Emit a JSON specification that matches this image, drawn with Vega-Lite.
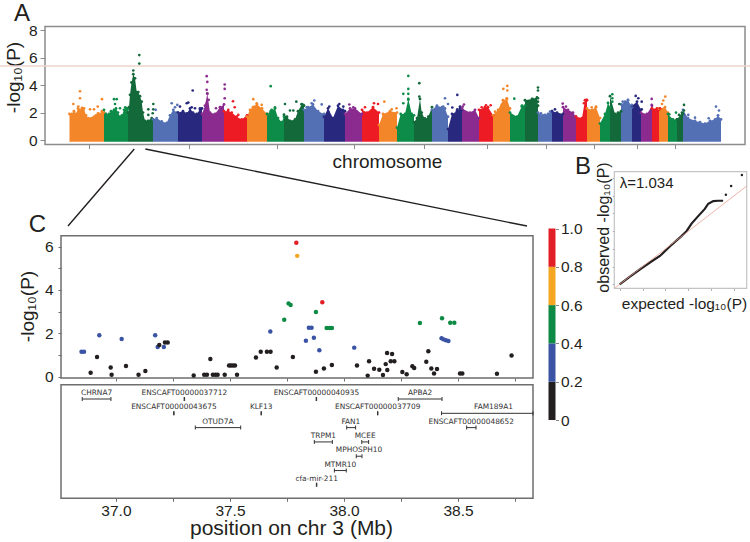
{
"$schema":"https://vega.github.io/schema/vega-lite/v6.json",
"width":750,"height":542,"padding":0,"autosize":{"type":"none"},"background":"white",
"config":{"view":{"stroke":null},"font":"Liberation Sans","axis":{"grid":false,"labelFont":"Liberation Sans","titleFont":"Liberation Sans","titleFontWeight":"normal","labelColor":"#231f20","titleColor":"#231f20"}},
"datasets":{
"env":[
{"chr":1,"pos":24.5,"p":1.9},{"chr":1,"pos":27,"p":1.9},{"chr":1,"pos":29,"p":2.1},{"chr":1,"pos":31,"p":1.9},{"chr":1,"pos":33,"p":2.3},{"chr":1,"pos":35,"p":2.2},{"chr":1,"pos":37,"p":2.35},{"chr":1,"pos":39,"p":2.3},{"chr":1,"pos":41,"p":1.8},{"chr":1,"pos":43,"p":1.6},{"chr":1,"pos":45,"p":1.55},{"chr":1,"pos":47,"p":1.6},{"chr":1,"pos":49,"p":1.7},{"chr":1,"pos":51,"p":1.8},{"chr":1,"pos":53,"p":1.95},{"chr":1,"pos":55,"p":1.9},{"chr":1,"pos":57,"p":2.1},{"chr":1,"pos":59,"p":2.0},
{"chr":2,"pos":59,"p":2.2},{"chr":2,"pos":61,"p":1.9},{"chr":2,"pos":64,"p":1.9},{"chr":2,"pos":66,"p":2.1},{"chr":2,"pos":69,"p":2.2},{"chr":2,"pos":71,"p":2.3},{"chr":2,"pos":73,"p":2.0},{"chr":2,"pos":75,"p":1.7},{"chr":2,"pos":77,"p":1.8},{"chr":2,"pos":79,"p":2.2},{"chr":2,"pos":81,"p":2.3},{"chr":2,"pos":83,"p":2.3},
{"chr":3,"pos":83,"p":2.0},{"chr":3,"pos":84,"p":2.4},{"chr":3,"pos":85,"p":3.3},{"chr":3,"pos":86.5,"p":4.2},{"chr":3,"pos":88.3,"p":4.8},{"chr":3,"pos":90,"p":4.5},{"chr":3,"pos":91.7,"p":3.5},{"chr":3,"pos":93.3,"p":3.5},{"chr":3,"pos":95,"p":3.2},{"chr":3,"pos":96.7,"p":2.8},{"chr":3,"pos":98,"p":2.0},{"chr":3,"pos":100,"p":1.4},{"chr":3,"pos":103,"p":1.4},{"chr":3,"pos":106.7,"p":1.6},{"chr":3,"pos":108,"p":1.5},
{"chr":4,"pos":108,"p":1.5},{"chr":4,"pos":111.7,"p":1.6},{"chr":4,"pos":116.7,"p":1.35},{"chr":4,"pos":121.7,"p":1.25},{"chr":4,"pos":125,"p":1.8},{"chr":4,"pos":128.3,"p":2.2},{"chr":4,"pos":131.7,"p":2.0},{"chr":4,"pos":133,"p":2.0},
{"chr":5,"pos":133,"p":2.0},{"chr":5,"pos":138,"p":2.1},{"chr":5,"pos":142,"p":1.95},{"chr":5,"pos":145,"p":2.3},{"chr":5,"pos":148,"p":2.0},{"chr":5,"pos":151.7,"p":1.9},{"chr":5,"pos":155,"p":2.2},{"chr":5,"pos":157,"p":2.3},
{"chr":6,"pos":157,"p":1.9},{"chr":6,"pos":160,"p":2.5},{"chr":6,"pos":162.3,"p":3.4},{"chr":6,"pos":165,"p":2.0},{"chr":6,"pos":170,"p":1.9},{"chr":6,"pos":175,"p":2.4},{"chr":6,"pos":179,"p":2.6},
{"chr":7,"pos":179,"p":2.1},{"chr":7,"pos":183,"p":2.1},{"chr":7,"pos":186.7,"p":2.0},{"chr":7,"pos":191.7,"p":1.7},{"chr":7,"pos":196.7,"p":1.5},{"chr":7,"pos":202,"p":1.8},
{"chr":8,"pos":202,"p":1.7},{"chr":8,"pos":205,"p":2.2},{"chr":8,"pos":208,"p":2.4},{"chr":8,"pos":212,"p":2.6},{"chr":8,"pos":217,"p":2.3},{"chr":8,"pos":222,"p":1.9},
{"chr":9,"pos":222,"p":1.9},{"chr":9,"pos":225.7,"p":2.1},{"chr":9,"pos":230,"p":2.3},{"chr":9,"pos":233,"p":1.6},{"chr":9,"pos":236.7,"p":1.3},{"chr":9,"pos":239,"p":1.7},
{"chr":10,"pos":239,"p":1.85},{"chr":10,"pos":242,"p":1.7},{"chr":10,"pos":245,"p":1.4},{"chr":10,"pos":250,"p":1.5},{"chr":10,"pos":253,"p":2.1},{"chr":10,"pos":256.7,"p":2.6},{"chr":10,"pos":259,"p":2.5},
{"chr":11,"pos":259,"p":2.2},{"chr":11,"pos":263,"p":2.4},{"chr":11,"pos":268,"p":2.6},{"chr":11,"pos":273,"p":2.1},{"chr":11,"pos":279,"p":1.9},
{"chr":12,"pos":279,"p":1.7},{"chr":12,"pos":283,"p":2.3},{"chr":12,"pos":288,"p":1.6},{"chr":12,"pos":293,"p":2.5},{"chr":12,"pos":298,"p":2.2},{"chr":12,"pos":300,"p":2.1},
{"chr":13,"pos":300,"p":1.9},{"chr":13,"pos":305,"p":2.3},{"chr":13,"pos":310,"p":2.3},{"chr":13,"pos":317,"p":1.9},
{"chr":14,"pos":317,"p":2.2},{"chr":14,"pos":322,"p":2.0},{"chr":14,"pos":328,"p":2.4},{"chr":14,"pos":334,"p":2.0},
{"chr":15,"pos":334,"p":1.1},{"chr":15,"pos":338,"p":1.9},{"chr":15,"pos":345,"p":2.1},{"chr":15,"pos":352,"p":2.0},
{"chr":16,"pos":352,"p":0.9},{"chr":16,"pos":355.7,"p":1.9},{"chr":16,"pos":360,"p":1.9},{"chr":16,"pos":363.3,"p":3.0},{"chr":16,"pos":366.7,"p":1.9},{"chr":16,"pos":369,"p":1.8},
{"chr":17,"pos":369,"p":1.3},{"chr":17,"pos":372,"p":1.6},{"chr":17,"pos":375,"p":3.0},{"chr":17,"pos":376.7,"p":2.0},{"chr":17,"pos":380,"p":1.5},{"chr":17,"pos":383.3,"p":1.7},{"chr":17,"pos":387,"p":2.4},
{"chr":18,"pos":387,"p":2.2},{"chr":18,"pos":392,"p":2.5},{"chr":18,"pos":397,"p":2.4},{"chr":18,"pos":400,"p":2.3},{"chr":18,"pos":403,"p":1.7},
{"chr":19,"pos":403,"p":0.8},{"chr":19,"pos":407,"p":1.9},{"chr":19,"pos":412,"p":2.1},{"chr":19,"pos":415,"p":2.3},{"chr":19,"pos":417,"p":2.2},
{"chr":20,"pos":417,"p":2.3},{"chr":20,"pos":425,"p":2.0},{"chr":20,"pos":430,"p":2.2},{"chr":20,"pos":434,"p":1.6},
{"chr":21,"pos":434,"p":2.2},{"chr":21,"pos":440,"p":2.4},{"chr":21,"pos":443,"p":2.4},{"chr":21,"pos":448,"p":1.8},
{"chr":22,"pos":448,"p":1.8},{"chr":22,"pos":453,"p":2.2},{"chr":22,"pos":458,"p":2.9},{"chr":22,"pos":462,"p":3.0},{"chr":22,"pos":465,"p":2.3},
{"chr":23,"pos":465,"p":2.0},{"chr":23,"pos":472,"p":1.7},{"chr":23,"pos":477,"p":2.5},{"chr":23,"pos":480,"p":2.5},
{"chr":24,"pos":480,"p":2.9},{"chr":24,"pos":487,"p":3.0},{"chr":24,"pos":492,"p":3.1},{"chr":24,"pos":493,"p":2.5},
{"chr":25,"pos":493,"p":2.0},{"chr":25,"pos":498,"p":1.8},{"chr":25,"pos":503,"p":1.9},{"chr":25,"pos":507,"p":2.1},
{"chr":26,"pos":507,"p":2.1},{"chr":26,"pos":512,"p":2.0},{"chr":26,"pos":518,"p":1.9},
{"chr":27,"pos":518,"p":2.4},{"chr":27,"pos":523,"p":2.2},{"chr":27,"pos":528,"p":2.0},{"chr":27,"pos":531,"p":1.7},
{"chr":28,"pos":531,"p":1.7},{"chr":28,"pos":537,"p":1.6},{"chr":28,"pos":540,"p":2.9},{"chr":28,"pos":542,"p":2.9},
{"chr":29,"pos":542,"p":2.3},{"chr":29,"pos":547,"p":2.2},{"chr":29,"pos":551,"p":2.4},{"chr":29,"pos":555,"p":1.6},
{"chr":30,"pos":555,"p":1.2},{"chr":30,"pos":560,"p":1.9},{"chr":30,"pos":563,"p":2.7},{"chr":30,"pos":565,"p":2.4},
{"chr":31,"pos":565,"p":3.2},{"chr":31,"pos":570,"p":1.9},{"chr":31,"pos":573,"p":2.0},{"chr":31,"pos":576,"p":2.1},
{"chr":32,"pos":576,"p":2.6},{"chr":32,"pos":580,"p":2.8},{"chr":32,"pos":583,"p":2.9},{"chr":32,"pos":587,"p":2.4},
{"chr":33,"pos":587,"p":2.5},{"chr":33,"pos":592,"p":2.8},{"chr":33,"pos":596,"p":2.2},
{"chr":34,"pos":596,"p":2.0},{"chr":34,"pos":602,"p":1.9},{"chr":34,"pos":607,"p":2.5},
{"chr":35,"pos":607,"p":2.3},{"chr":35,"pos":612,"p":2.3},{"chr":35,"pos":614,"p":2.2},
{"chr":36,"pos":614,"p":2.3},{"chr":36,"pos":620,"p":2.4},{"chr":36,"pos":623,"p":2.0},
{"chr":37,"pos":623,"p":1.9},{"chr":37,"pos":628,"p":1.5},{"chr":37,"pos":632,"p":1.5},
{"chr":38,"pos":632,"p":1.5},{"chr":38,"pos":637,"p":2.0},{"chr":38,"pos":638,"p":1.9},
{"chr":39,"pos":638,"p":2.2},{"chr":39,"pos":643,"p":1.6},{"chr":39,"pos":650,"p":1.4},{"chr":39,"pos":655,"p":1.3},{"chr":39,"pos":660,"p":1.2},{"chr":39,"pos":665,"p":1.4},{"chr":39,"pos":670,"p":1.5},{"chr":39,"pos":673,"p":1.8},{"chr":39,"pos":676,"p":1.5}
],
"peaks":[
{"chr":1,"pos":28.3,"p":2.63},{"chr":1,"pos":35,"p":3.56},{"chr":1,"pos":35,"p":3.05},{"chr":1,"pos":45,"p":2.24},{"chr":1,"pos":49,"p":2.24},{"chr":1,"pos":52.7,"p":2.44},{"chr":1,"pos":57,"p":2.98},{"chr":1,"pos":33.3,"p":2.44},
{"chr":2,"pos":69,"p":2.98},{"chr":2,"pos":71.7,"p":2.98},{"chr":2,"pos":70,"p":2.63},{"chr":2,"pos":75,"p":2.32},{"chr":2,"pos":80.3,"p":2.39},
{"chr":3,"pos":88.3,"p":5.07},{"chr":3,"pos":94.3,"p":6.2},{"chr":3,"pos":94.3,"p":5.58},{"chr":3,"pos":103.3,"p":2.24},{"chr":3,"pos":108.3,"p":2.63},{"chr":3,"pos":108.3,"p":2.24},{"chr":3,"pos":103.3,"p":1.83},{"chr":3,"pos":107.7,"p":1.95},
{"chr":4,"pos":110.7,"p":2.2},{"chr":4,"pos":126.7,"p":2.68},{"chr":4,"pos":132.3,"p":2.56},{"chr":4,"pos":130,"p":2.39},
{"chr":5,"pos":147.7,"p":3.61},{"chr":5,"pos":141.7,"p":2.68},{"chr":5,"pos":143.3,"p":2.73},{"chr":5,"pos":146.7,"p":2.39},{"chr":5,"pos":150,"p":2.32},{"chr":5,"pos":155,"p":2.32},{"chr":5,"pos":135,"p":2.44},
{"chr":6,"pos":161.7,"p":4.66},{"chr":6,"pos":162.3,"p":4.24},{"chr":6,"pos":161.7,"p":3.66},{"chr":6,"pos":162.3,"p":3.37},{"chr":6,"pos":163.7,"p":2.93},{"chr":6,"pos":179.7,"p":4.05},{"chr":6,"pos":179.7,"p":3.73},{"chr":6,"pos":179.7,"p":3.05},{"chr":6,"pos":171,"p":2.32},{"chr":6,"pos":175,"p":2.07},{"chr":6,"pos":161.7,"p":2.68},
{"chr":7,"pos":188,"p":2.83},{"chr":7,"pos":189.7,"p":2.39},{"chr":7,"pos":193.3,"p":1.83},{"chr":7,"pos":183.3,"p":2.2},
{"chr":8,"pos":208.3,"p":2.98},{"chr":8,"pos":211.7,"p":2.68},{"chr":8,"pos":210,"p":2.44},{"chr":8,"pos":216.7,"p":2.56},
{"chr":9,"pos":225.7,"p":3.93},{"chr":10,"pos":240,"p":2.63},{"chr":9,"pos":230,"p":2.39},{"chr":9,"pos":226.7,"p":2.2},
{"chr":10,"pos":251.3,"p":2.8},{"chr":10,"pos":256.7,"p":2.63},{"chr":10,"pos":258.3,"p":2.56},{"chr":10,"pos":248.3,"p":2.15},{"chr":10,"pos":245,"p":2.15},
{"chr":11,"pos":269.3,"p":2.88},{"chr":11,"pos":266.7,"p":2.68},{"chr":11,"pos":276.7,"p":2.6},{"chr":11,"pos":261.7,"p":2.39},
{"chr":12,"pos":284.3,"p":2.44},{"chr":12,"pos":294.3,"p":2.63},{"chr":12,"pos":298.3,"p":2.44},{"chr":12,"pos":283.3,"p":2.07},
{"chr":13,"pos":304.3,"p":2.59},{"chr":13,"pos":308.3,"p":2.39},{"chr":13,"pos":311.7,"p":2.07},
{"chr":14,"pos":329,"p":2.68},{"chr":14,"pos":333,"p":2.63},{"chr":14,"pos":320,"p":2.39},
{"chr":15,"pos":339.3,"p":2.8},{"chr":15,"pos":346.7,"p":2.24},{"chr":15,"pos":351.5,"p":2.32},
{"chr":16,"pos":363.3,"p":4.68},{"chr":16,"pos":363.3,"p":3.73},{"chr":16,"pos":358.3,"p":3.37},{"chr":16,"pos":363.3,"p":3.37},{"chr":16,"pos":363.3,"p":2.93},{"chr":16,"pos":358.3,"p":2.68},{"chr":16,"pos":363.3,"p":2.44},
{"chr":17,"pos":374.3,"p":4.15},{"chr":17,"pos":374.3,"p":3.17},{"chr":17,"pos":380,"p":1.59},
{"chr":18,"pos":400,"p":3.05},{"chr":18,"pos":403,"p":2.63},{"chr":18,"pos":391.7,"p":2.44},{"chr":18,"pos":398.3,"p":2.44},
{"chr":19,"pos":412.3,"p":3.29},{"chr":19,"pos":407.3,"p":2.37},{"chr":19,"pos":412.3,"p":2.24},{"chr":19,"pos":415,"p":2.44},
{"chr":20,"pos":419,"p":2.59},{"chr":20,"pos":417.7,"p":2.44},{"chr":20,"pos":425,"p":1.95},
{"chr":21,"pos":436.7,"p":2.39},{"chr":21,"pos":441,"p":2.54},{"chr":21,"pos":445.7,"p":2.54},{"chr":22,"pos":450,"p":2.07},
{"chr":22,"pos":458.3,"p":3.73},{"chr":22,"pos":462.3,"p":3.95},{"chr":22,"pos":462.3,"p":3.61},{"chr":22,"pos":461.7,"p":3.05},{"chr":22,"pos":456.7,"p":2.56},{"chr":22,"pos":451.7,"p":1.95},
{"chr":23,"pos":469.3,"p":3.02},{"chr":23,"pos":476.7,"p":2.44},
{"chr":24,"pos":493,"p":3.83},{"chr":24,"pos":493,"p":3.61},{"chr":24,"pos":493,"p":3.05},{"chr":24,"pos":493,"p":2.8},{"chr":24,"pos":487.7,"p":2.98},
{"chr":25,"pos":496,"p":1.95},{"chr":25,"pos":500,"p":1.83},{"chr":25,"pos":505,"p":2.07},
{"chr":26,"pos":510,"p":2.24},{"chr":26,"pos":513.3,"p":1.83},
{"chr":27,"pos":517.7,"p":2.66},{"chr":27,"pos":521,"p":2.44},{"chr":27,"pos":526.7,"p":1.95},
{"chr":28,"pos":541.7,"p":2.93},{"chr":28,"pos":539,"p":2.68},
{"chr":29,"pos":551,"p":2.44},{"chr":29,"pos":546.7,"p":2.39},
{"chr":30,"pos":567.3,"p":3.34},{"chr":30,"pos":567.3,"p":3.05},{"chr":30,"pos":567.3,"p":2.8},{"chr":30,"pos":565,"p":2.32},
{"chr":31,"pos":574.3,"p":2.63},
{"chr":32,"pos":583,"p":2.93},{"chr":32,"pos":577.7,"p":2.8},{"chr":32,"pos":586.7,"p":2.56},
{"chr":33,"pos":590.7,"p":3.22},{"chr":33,"pos":593.3,"p":3.05},{"chr":33,"pos":596.7,"p":2.8},{"chr":33,"pos":596.7,"p":2.24},
{"chr":34,"pos":606.7,"p":3.0},{"chr":34,"pos":606.7,"p":2.56},
{"chr":35,"pos":615,"p":2.32},{"chr":35,"pos":611.7,"p":2.2},
{"chr":36,"pos":620.3,"p":3.17},{"chr":36,"pos":618.3,"p":2.88},{"chr":36,"pos":617,"p":2.63},
{"chr":37,"pos":624.3,"p":1.88},{"chr":37,"pos":631,"p":2.0},
{"chr":38,"pos":639,"p":2.56},{"chr":38,"pos":639,"p":2.15},{"chr":38,"pos":634,"p":1.83},
{"chr":39,"pos":643.3,"p":1.83},{"chr":39,"pos":650,"p":1.63},{"chr":39,"pos":671,"p":2.44},{"chr":39,"pos":674,"p":2.15},{"chr":39,"pos":663.7,"p":1.59}
],
"region":[
{"pos":36.849,"p":1.15,"ld":0.3},{"pos":36.86,"p":1.15,"ld":0.3},{"pos":36.927,"p":1.91,"ld":0.3},{"pos":37.025,"p":1.74,"ld":0.3},{"pos":37.172,"p":1.91,"ld":0.3},{"pos":37.183,"p":1.37,"ld":0.3},{"pos":37.21,"p":1.37,"ld":0.3},{"pos":37.677,"p":2.08,"ld":0.3},
{"pos":36.889,"p":0.18,"ld":0.1},{"pos":36.917,"p":0.91,"ld":0.1},{"pos":36.977,"p":0.42,"ld":0.1},{"pos":36.981,"p":0.09,"ld":0.1},{"pos":37.044,"p":0.49,"ld":0.1},{"pos":37.099,"p":0.09,"ld":0.1},{"pos":37.129,"p":0.26,"ld":0.1},{"pos":37.19,"p":1.46,"ld":0.1},{"pos":37.215,"p":1.58,"ld":0.1},{"pos":37.227,"p":1.58,"ld":0.1},{"pos":37.341,"p":0.06,"ld":0.1},{"pos":37.387,"p":0.09,"ld":0.1},{"pos":37.399,"p":0.09,"ld":0.1},{"pos":37.414,"p":0.82,"ld":0.1},{"pos":37.425,"p":0.09,"ld":0.1},{"pos":37.436,"p":0.09,"ld":0.1},{"pos":37.446,"p":0.09,"ld":0.1},{"pos":37.477,"p":0.09,"ld":0.1},{"pos":37.496,"p":0.52,"ld":0.1},{"pos":37.504,"p":0.52,"ld":0.1},{"pos":37.513,"p":0.52,"ld":0.1},{"pos":37.522,"p":0.52,"ld":0.1},{"pos":37.531,"p":0.09,"ld":0.1},{"pos":37.614,"p":0.89,"ld":0.1},{"pos":37.635,"p":1.15,"ld":0.1},{"pos":37.662,"p":1.15,"ld":0.1},{"pos":37.678,"p":1.15,"ld":0.1},{"pos":37.705,"p":0.42,"ld":0.1},{"pos":37.776,"p":0.91,"ld":0.1},
{"pos":37.738,"p":2.63,"ld":0.5},{"pos":37.757,"p":3.38,"ld":0.5},{"pos":37.766,"p":3.31,"ld":0.5},{"pos":37.791,"p":6.18,"ld":0.9},{"pos":37.795,"p":5.57,"ld":0.7},
{"pos":37.905,"p":3.43,"ld":0.9},{"pos":37.877,"p":2.98,"ld":0.5},{"pos":37.846,"p":2.26,"ld":0.3},{"pos":37.858,"p":2.26,"ld":0.3},{"pos":37.833,"p":1.66,"ld":0.3},{"pos":37.868,"p":1.8,"ld":0.3},{"pos":37.892,"p":1.22,"ld":0.3},{"pos":37.924,"p":2.25,"ld":0.5},{"pos":37.936,"p":2.25,"ld":0.5},{"pos":37.947,"p":2.25,"ld":0.5},{"pos":38.045,"p":1.34,"ld":0.3},{"pos":38.333,"p":2.48,"ld":0.5},{"pos":38.43,"p":2.69,"ld":0.5},{"pos":38.466,"p":2.49,"ld":0.5},{"pos":38.484,"p":2.49,"ld":0.5},{"pos":38.428,"p":1.77,"ld":0.3},{"pos":38.437,"p":1.72,"ld":0.3},{"pos":38.447,"p":1.68,"ld":0.3},{"pos":38.458,"p":1.65,"ld":0.3},
{"pos":37.877,"p":0.23,"ld":0.1},{"pos":37.912,"p":0.38,"ld":0.1},{"pos":37.947,"p":0.54,"ld":0.1},{"pos":38.057,"p":0.52,"ld":0.1},{"pos":38.104,"p":0.05,"ld":0.1},{"pos":38.11,"p":0.71,"ld":0.1},{"pos":38.132,"p":0.37,"ld":0.1},{"pos":38.155,"p":0.32,"ld":0.1},{"pos":38.171,"p":0.08,"ld":0.1},{"pos":38.183,"p":0.58,"ld":0.1},{"pos":38.19,"p":0.31,"ld":0.1},{"pos":38.189,"p":1.09,"ld":0.1},{"pos":38.211,"p":1.05,"ld":0.1},{"pos":38.205,"p":0.71,"ld":0.1},{"pos":38.221,"p":0.71,"ld":0.1},{"pos":38.256,"p":0.22,"ld":0.1},{"pos":38.275,"p":0.11,"ld":0.1},{"pos":38.3,"p":0.48,"ld":0.1},{"pos":38.308,"p":0.4,"ld":0.1},{"pos":38.361,"p":0.69,"ld":0.1},{"pos":38.37,"p":1.17,"ld":0.1},{"pos":38.383,"p":0.38,"ld":0.1},{"pos":38.395,"p":0.15,"ld":0.1},{"pos":38.408,"p":0.35,"ld":0.1},{"pos":38.509,"p":0.15,"ld":0.1},{"pos":38.519,"p":0.15,"ld":0.1},{"pos":38.671,"p":0.14,"ld":0.1},{"pos":38.735,"p":0.98,"ld":0.1}
],
"genes":[
{"name":"CHRNA7","start":36.852,"end":36.978,"mid":36.915,"lane":1},
{"name":"ENSCAFT00000037712","start":37.299,"end":37.301,"mid":37.3,"lane":1},
{"name":"ENSCAFT00000040935","start":37.878,"end":37.88,"mid":37.879,"lane":1},
{"name":"APBA2","start":38.238,"end":38.43,"mid":38.334,"lane":1},
{"name":"ENSCAFT00000043675","start":37.253,"end":37.255,"mid":37.254,"lane":2},
{"name":"KLF13","start":37.636,"end":37.638,"mid":37.637,"lane":2},
{"name":"ENSCAFT00000037709","start":38.147,"end":38.149,"mid":38.148,"lane":2},
{"name":"FAM189A1","start":38.428,"end":38.829,"mid":38.656,"lane":2},
{"name":"OTUD7A","start":37.348,"end":37.547,"mid":37.447,"lane":3},
{"name":"FAN1","start":38.012,"end":38.051,"mid":38.03,"lane":3},
{"name":"ENSCAFT00000048652","start":38.538,"end":38.579,"mid":38.558,"lane":3},
{"name":"TRPM1","start":37.87,"end":37.949,"mid":37.91,"lane":4},
{"name":"MCEE","start":38.078,"end":38.108,"mid":38.093,"lane":4},
{"name":"MPHOSPH10","start":38.054,"end":38.079,"mid":38.066,"lane":5},
{"name":"MTMR10","start":37.958,"end":38.01,"mid":37.984,"lane":6},
{"name":"cfa-mir-211","start":37.879,"end":37.881,"mid":37.88,"lane":7}
],
"qqcurve":[
{"e":0,"o":0},{"e":0.45,"o":0.43},{"e":0.89,"o":0.85},{"e":1.32,"o":1.23},{"e":1.76,"o":1.6},{"e":2.2,"o":2.15},{"e":2.7,"o":2.72},{"e":2.92,"o":3.0},{"e":3.14,"o":3.43},{"e":3.43,"o":3.85},{"e":3.72,"o":4.26},{"e":3.87,"o":4.55},{"e":4.09,"o":4.7},{"e":4.3,"o":4.72},{"e":4.52,"o":4.72}
],
"qqtail":[{"e":4.64,"o":5.06},{"e":4.87,"o":5.55},{"e":5.34,"o":6.17}]
},
"resolve":{"scale":{"x":"independent","y":"independent","color":"independent"},"axis":{"x":"independent","y":"independent"}},
"layer":[
{
"resolve":{"scale":{"x":"shared","y":"shared","color":"shared"}},
"layer":[
{"data":{"values":[{"a":0,"b":700,"c":-0.328,"d":8.285}]},
 "mark":{"type":"rect","fill":null,"fillOpacity":0,"stroke":"#8c8c8c","strokeWidth":1.5},
 "encoding":{
  "x":{"field":"a","type":"quantitative","scale":{"domain":[0,700],"range":[45,745],"nice":false,"zero":false},
   "axis":{"orient":"bottom","offset":-397.5,"values":[44,73,98,122,144,168,191,212,232,252,271,291,309,328,344,361,379,397,411,427,442,458,473,487,501,513,525,537,549,562,572,583,592,603,612,622,630,638,656],"labels":false,"tickSize":4,"tickColor":"#8c8c8c","domain":false,"title":"chromosome","titleFontSize":19,"titleX":387,"titleY":17,"titleBaseline":"middle","titleAlign":"center"}},
  "x2":{"field":"b"},
  "y":{"field":"c","type":"quantitative","scale":{"domain":[-0.328,8.285],"range":[144.5,26.5],"nice":false,"zero":false},
   "axis":{"orient":"left","offset":-45,"values":[0,2,4,6,8],"format":"d","labelFontSize":15.5,"tickSize":5,"tickColor":"#8c8c8c","domain":false,"labelPadding":3,"title":"-log₁₀(P)","titleFontSize":19,"titleX":-32,"titleY":77,"titleAlign":"center","titleBaseline":"middle","titleAngle":-90}},
  "y2":{"field":"d"}}},
{"data":{"name":"env"},"mark":{"type":"area","interpolate":"linear"},
 "encoding":{"x":{"field":"pos","type":"quantitative"},"y":{"field":"p","type":"quantitative","stack":null},"y2":{"datum":-0.12},
  "color":{"field":"chr","type":"nominal","sort":null,"legend":null,"scale":{"domain":[1,2,3,4,5,6,7,8,9,10,11,12,13,14,15,16,17,18,19,20,21,22,23,24,25,26,27,28,29,30,31,32,33,34,35,36,37,38,39],
   "range":["#f4862a","#0c8c48","#13693a","#5470b5","#28287e","#8b2b8f","#ed1c24","#f4862a","#0c8c48","#13693a","#5470b5","#28287e","#8b2b8f","#ed1c24","#f4862a","#0c8c48","#13693a","#5470b5","#28287e","#8b2b8f","#ed1c24","#f4862a","#0c8c48","#13693a","#5470b5","#28287e","#8b2b8f","#ed1c24","#f4862a","#0c8c48","#13693a","#5470b5","#28287e","#8b2b8f","#ed1c24","#f4862a","#0c8c48","#13693a","#5470b5"]}}}},
{"data":{"name":"env"},"mark":{"type":"circle","size":8,"opacity":1},
 "encoding":{"x":{"field":"pos","type":"quantitative"},"y":{"field":"p","type":"quantitative"},
  "color":{"field":"chr","type":"nominal","legend":null}}},
{"data":{"name":"peaks"},"mark":{"type":"circle","size":7,"opacity":1},
 "encoding":{"x":{"field":"pos","type":"quantitative"},"y":{"field":"p","type":"quantitative"},
  "color":{"field":"chr","type":"nominal","legend":null}}},
{"data":{"values":[{"threshold":5.4}]},"mark":{"type":"rule","stroke":"#eed5cb","strokeWidth":1.5},
 "encoding":{"y":{"field":"threshold","type":"quantitative"}}},
{"data":{"values":[{"side":"left","pos":89.3,"p":-0.66},{"side":"left","pos":23,"p":-6.28},{"side":"right","pos":100.3,"p":-0.66},{"side":"right","pos":482,"p":-6.28}]},
 "mark":{"type":"line","stroke":"#231f20","strokeWidth":1.4},
 "encoding":{"x":{"field":"pos","type":"quantitative"},"y":{"field":"p","type":"quantitative"},"detail":{"field":"side"}}},
{"data":{"values":[{"t":"A","pos":-23,"p":9.2}]},"mark":{"type":"text","fontSize":24,"color":"#231f20","font":"Liberation Sans"},
 "encoding":{"x":{"field":"pos","type":"quantitative"},"y":{"field":"p","type":"quantitative"},"text":{"field":"t"}}}
]},
{
"resolve":{"scale":{"x":"shared","y":"shared"}},
"layer":[
{"data":{"values":[{"a":36.759,"b":38.829,"c":-0.06,"d":6.5}]},
 "mark":{"type":"rect","fillOpacity":0,"stroke":"#6e6e6e","strokeWidth":1.5},
 "encoding":{
  "x":{"field":"a","type":"quantitative","scale":{"domain":[36.759,38.829],"range":[61,533],"nice":false,"zero":false},
   "axis":{"orient":"bottom","offset":-164,"values":[37,37.25,37.5,37.75,38,38.25,38.5,38.75],"labels":false,"tickSize":3,"tickColor":"#6e6e6e","domain":false,"title":null}},
  "x2":{"field":"b"},
  "y":{"field":"c","type":"quantitative","scale":{"domain":[-0.06,6.5],"range":[378,235.7],"nice":false,"zero":false},
   "axis":{"orient":"left","offset":-61,"values":[0,1,2,3,4,5,6],"format":"d","labelExpr":"datum.value%2==0?datum.label:''","labelFontSize":15.5,"tickSize":3,"tickColor":"#6e6e6e","domain":false,"labelPadding":5,"title":"-log₁₀(P)","titleFontSize":19,"titleX":-34,"titleY":306,"titleAlign":"center","titleBaseline":"middle","titleAngle":-90}},
  "y2":{"field":"d"}}},
{"data":{"name":"region"},"mark":{"type":"circle","size":20,"opacity":1},
 "encoding":{"x":{"field":"pos","type":"quantitative"},"y":{"field":"p","type":"quantitative"},
  "color":{"field":"ld","type":"quantitative","legend":null,"scale":{"type":"threshold","domain":[0.2,0.4,0.6,0.8],"range":["#231f20","#3a53a4","#0d8a43","#f5a623","#e21f26"]}}}},
{"data":{"values":[{"t":"C","pos":36.656,"p":7.0}]},"mark":{"type":"text","fontSize":24,"color":"#231f20","font":"Liberation Sans"},
 "encoding":{"x":{"field":"pos","type":"quantitative"},"y":{"field":"p","type":"quantitative"},"text":{"field":"t"}}}
]},
{
"resolve":{"scale":{"x":"shared","y":"shared"}},
"layer":[
{"data":{"values":[{"a":36.759,"b":38.829,"c":0,"d":7.94}]},
 "mark":{"type":"rect","fillOpacity":0,"stroke":"#6e6e6e","strokeWidth":1.5},
 "encoding":{
  "x":{"field":"a","type":"quantitative","scale":{"domain":[36.759,38.829],"range":[61,533],"nice":false,"zero":false},
   "axis":{"orient":"bottom","offset":-43.7,"values":[37,37.25,37.5,37.75,38,38.25,38.5,38.75],"labelExpr":"datum.value%0.5==0?format(datum.value,'.1f'):''","labelFontSize":15.5,"tickSize":3,"tickColor":"#6e6e6e","domain":false,"labelPadding":2,"title":"position on chr 3 (Mb)","titleFontSize":21,"titleX":291,"titleY":30.5,"titleBaseline":"middle","titleAlign":"center"}},
  "x2":{"field":"b"},
  "y":{"field":"c","type":"quantitative","scale":{"domain":[0,7.94],"range":[384.7,498.3],"nice":false,"zero":false},"axis":null},
  "y2":{"field":"d"}}},
{"data":{"name":"genes"},"mark":{"type":"rule","stroke":"#333333","strokeWidth":1},
 "encoding":{"x":{"field":"start","type":"quantitative"},"x2":{"field":"end"},"y":{"field":"lane","type":"quantitative"}}},
{"data":{"name":"genes"},"mark":{"type":"tick","orient":"vertical","size":4,"thickness":1,"color":"#333333","opacity":1},
 "encoding":{"x":{"field":"start","type":"quantitative"},"y":{"field":"lane","type":"quantitative"}}},
{"data":{"name":"genes"},"mark":{"type":"tick","orient":"vertical","size":4,"thickness":1,"color":"#333333","opacity":1},
 "encoding":{"x":{"field":"end","type":"quantitative"},"y":{"field":"lane","type":"quantitative"}}},
{"data":{"name":"genes"},"mark":{"type":"text","font":"DejaVu Sans","fontSize":7.4,"color":"#333333","baseline":"middle","dy":-6},
 "encoding":{"x":{"field":"mid","type":"quantitative"},"y":{"field":"lane","type":"quantitative"},"text":{"field":"name"}}}
]},
{
"data":{"values":[{"lo":0,"hi":0.2},{"lo":0.2,"hi":0.4},{"lo":0.4,"hi":0.6},{"lo":0.6,"hi":0.8},{"lo":0.8,"hi":1}]},
"mark":{"type":"rect"},
"encoding":{
 "x":{"datum":0,"scale":{"domain":[0,1],"range":[548.5,555.5],"nice":false,"zero":false},"axis":null},
 "x2":{"datum":1},
 "y":{"field":"lo","type":"quantitative","scale":{"domain":[0,1],"range":[420,228.5],"nice":false,"zero":false},
  "axis":{"orient":"right","offset":-194.5,"values":[0,0.2,0.4,0.6,0.8,1],"labelExpr":"datum.value==0?'0':format(datum.value,'.1f')","labelFontSize":15.5,"tickSize":3,"domain":false,"labelPadding":2,"title":null}},
 "y2":{"field":"hi"},
 "color":{"field":"lo","type":"quantitative","legend":null,"scale":{"type":"threshold","domain":[0.2,0.4,0.6,0.8],"range":["#231f20","#3a53a4","#0d8a43","#f5a623","#e21f26"]}}}
},
{
"resolve":{"scale":{"x":"shared","y":"shared"}},
"layer":[
{"data":{"values":[{"a":-0.235,"b":5.55,"c":-0.226,"d":6.36}]},
 "mark":{"type":"rect","fillOpacity":0,"stroke":"#c4c4c4","strokeWidth":1.2},
 "encoding":{
  "x":{"field":"a","type":"quantitative","scale":{"domain":[-0.235,5.55],"range":[614.3,746.7],"nice":false,"zero":false},
   "axis":{"orient":"bottom","offset":-253.7,"values":[0,1,2,3,4,5],"labels":false,"tickSize":2,"tickColor":"#a8a8a8","domain":false,"title":"expected -log₁₀(P)","titleFontSize":15.5,"titleX":684,"titleY":15,"titleBaseline":"middle","titleAlign":"center"}},
  "x2":{"field":"b"},
  "y":{"field":"c","type":"quantitative","scale":{"domain":[-0.226,6.36],"range":[288.3,171.7],"nice":false,"zero":false},
   "axis":{"orient":"left","offset":-614.3,"values":[0,1,2,3,4,5,6],"labels":false,"tickSize":2,"tickColor":"#a8a8a8","domain":false,"title":"observed -log₁₀(P)","titleFontSize":16,"titleX":-11,"titleY":227,"titleBaseline":"middle","titleAlign":"center","titleAngle":-90}},
  "y2":{"field":"d"}}},
{"data":{"name":"qqcurve"},"mark":{"type":"line","stroke":"#231f20","strokeWidth":2.2},
 "encoding":{"x":{"field":"e","type":"quantitative"},"y":{"field":"o","type":"quantitative"}}},
{"data":{"name":"qqtail"},"mark":{"type":"circle","size":6,"color":"#231f20","opacity":1},
 "encoding":{"x":{"field":"e","type":"quantitative"},"y":{"field":"o","type":"quantitative"}}},
{"data":{"values":[{"e":-0.2,"o":-0.2},{"e":5.55,"o":5.55}]},"mark":{"type":"line","stroke":"#e8a090","strokeWidth":0.8},
 "encoding":{"x":{"field":"e","type":"quantitative"},"y":{"field":"o","type":"quantitative"}}},
{"data":{"values":[{"t":"λ=1.034","e":0,"o":5.73}]},"mark":{"type":"text","fontSize":15,"align":"left","color":"#231f20","font":"Liberation Sans"},
 "encoding":{"x":{"field":"e","type":"quantitative"},"y":{"field":"o","type":"quantitative"},"text":{"field":"t"}}},
{"data":{"values":[{"t":"B","e":-1.6,"o":6.65}]},"mark":{"type":"text","fontSize":24,"color":"#231f20","font":"Liberation Sans"},
 "encoding":{"x":{"field":"e","type":"quantitative"},"y":{"field":"o","type":"quantitative"},"text":{"field":"t"}}}
]}
]
}
